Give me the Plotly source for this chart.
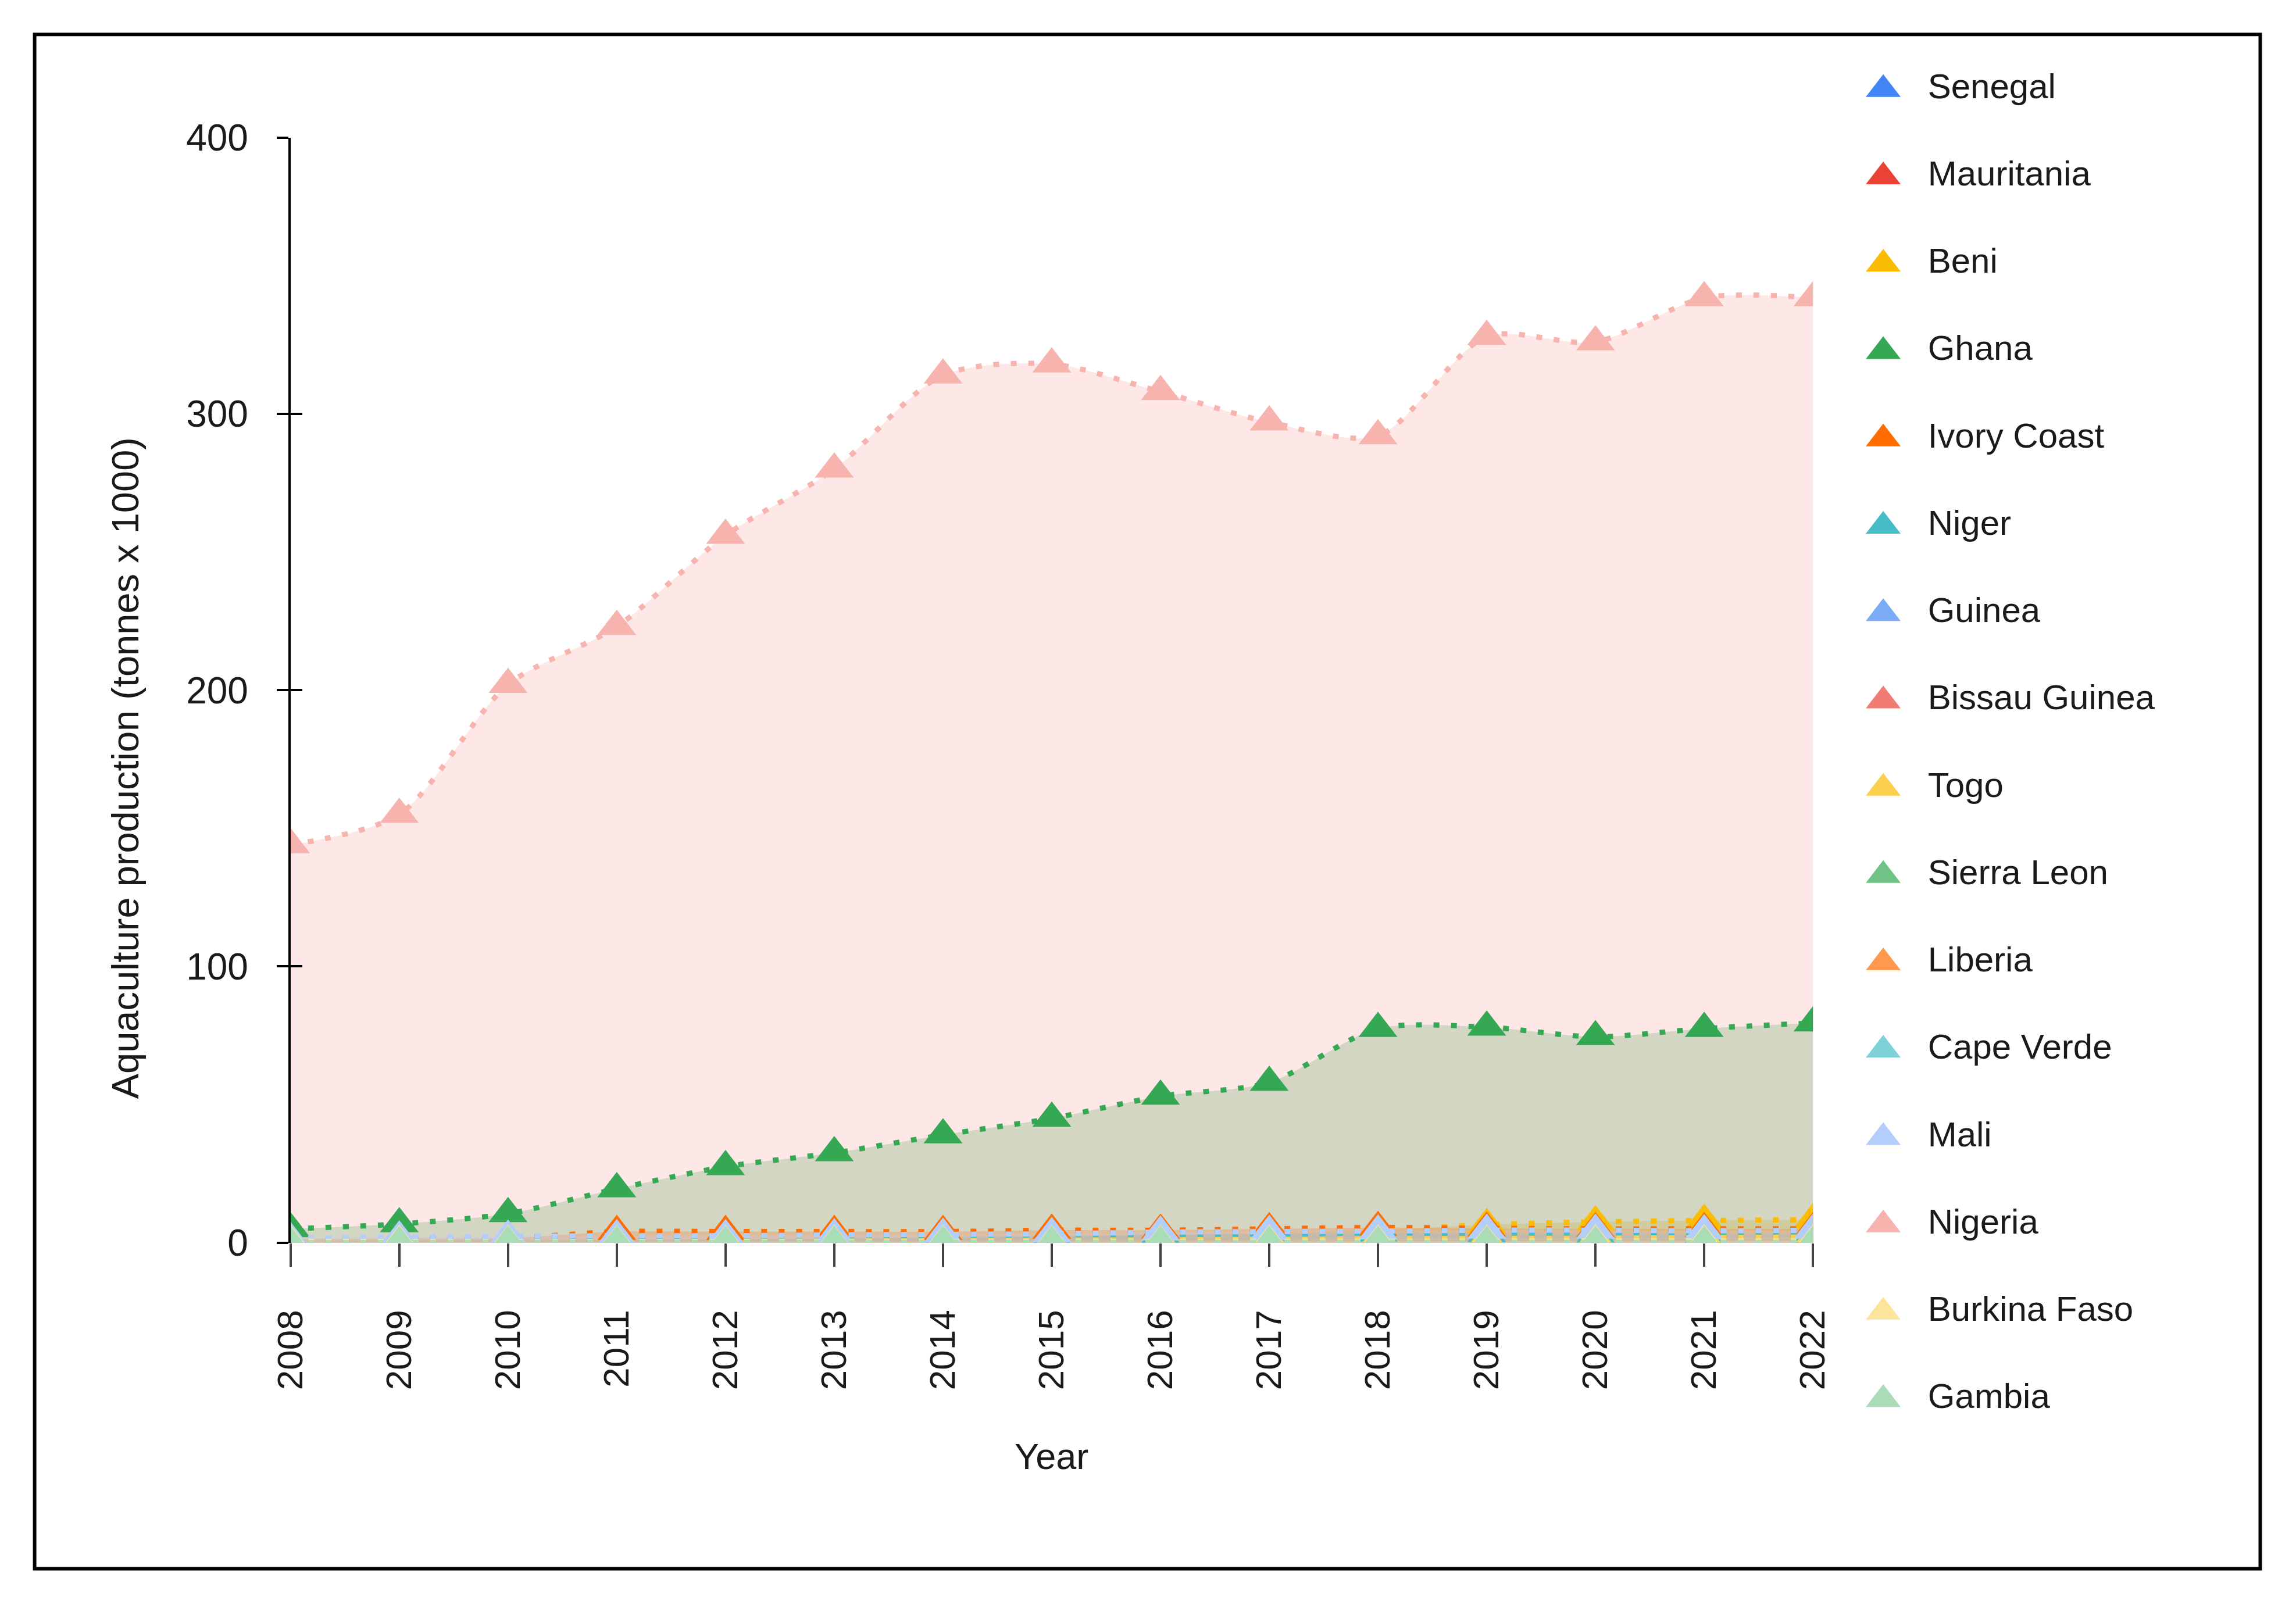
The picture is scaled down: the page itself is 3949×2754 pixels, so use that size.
import plotly.graph_objects as go

# ---------------- data (thousand tonnes) ----------------
years = list(range(2008, 2023))
year_labels = [str(y) for y in years]
y_ticks = [0, 100, 200, 300, 400]

countries = ["Senegal", "Mauritania", "Beni", "Ghana", "Ivory Coast", "Niger", "Guinea",
             "Bissau Guinea", "Togo", "Sierra Leon", "Liberia", "Cape Verde", "Mali",
             "Nigeria", "Burkina Faso", "Gambia"]
colors = ["#4285f4", "#ea4335", "#fbbc04", "#34a853", "#ff6d01", "#46bdc6", "#7baaf7",
          "#f07b72", "#fcd04f", "#71c287", "#ff994d", "#7ed1d7", "#b3cefb",
          "#f7b4ae", "#fde49b", "#aadcb7"]

senegal      = [0.2, 0.4, 0.4, 0.3, 0.4, 0.5, 0.6, 0.8, 1.1, 1.3, 1.1, 1.3, 1.3, 1.5, 1.5]
mauritania   = [0.0, 0.0, 0.0, 0.0, 0.0, 0.0, 0.0, 0.0, 0.0, 0.0, 0.0, 0.0, 0.0, 0.0, 0.0]
beni         = [0.5, 0.6, 0.6, 0.8, 1.0, 1.3, 1.6, 2.2, 2.8, 3.5, 4.5, 6.5, 7.5, 8.0, 8.3]
ghana        = [5.0, 6.8, 10.5, 19.5, 27.5, 32.5, 39.0, 45.0, 53.0, 58.0, 77.5, 78.0, 74.5, 77.5, 79.5]
ivory_coast  = [1.3, 1.5, 1.6, 4.0, 4.0, 4.0, 4.0, 4.5, 4.5, 5.0, 5.5, 5.2, 5.0, 5.0, 5.0]
niger        = [0.5, 0.8, 1.0, 1.0, 1.2, 1.5, 2.0, 2.5, 2.8, 3.0, 3.5, 3.2, 3.0, 3.0, 3.0]
guinea       = [0.1, 0.1, 0.2, 0.2, 0.2, 0.3, 0.3, 0.4, 0.5, 0.5, 0.6, 0.6, 0.7, 0.7, 0.8]
bissau       = [0.0, 0.0, 0.0, 0.0, 0.0, 0.0, 0.0, 0.0, 0.0, 0.0, 0.0, 0.0, 0.0, 0.0, 0.0]
togo         = [0.2, 0.3, 0.3, 0.4, 0.5, 0.6, 0.7, 0.9, 1.0, 1.2, 1.3, 1.5, 1.6, 1.8, 2.0]
sierra_leon  = [0.1, 0.1, 0.1, 0.1, 0.1, 0.1, 0.1, 0.1, 0.1, 0.1, 0.1, 0.1, 0.1, 0.1, 0.1]
liberia      = [0.1, 0.1, 0.1, 0.2, 0.2, 0.2, 0.3, 0.3, 0.3, 0.4, 0.4, 0.4, 0.5, 0.5, 0.5]
cape_verde   = [0.0, 0.0, 0.0, 0.0, 0.0, 0.0, 0.0, 0.0, 0.0, 0.0, 0.0, 0.0, 0.0, 0.0, 0.0]
mali         = [1.5, 2.0, 2.3, 2.5, 2.5, 2.8, 3.0, 3.2, 3.8, 4.0, 4.2, 4.5, 4.5, 4.3, 4.5]
nigeria      = [144.0, 155.0, 202.0, 223.0, 256.0, 280.0, 314.0, 318.0, 308.0, 297.0, 292.0, 328.0, 326.0, 342.0, 342.0]
burkina_faso = [0.5, 0.4, 0.4, 0.4, 0.4, 0.4, 0.4, 0.4, 0.4, 0.5, 0.5, 0.5, 0.6, 0.6, 0.6]
gambia       = [0.0, 0.0, 0.1, 0.1, 0.1, 0.1, 0.1, 0.1, 0.1, 0.1, 0.1, 0.1, 0.1, 0.1, 0.1]

series = [senegal, mauritania, beni, ghana, ivory_coast, niger, guinea, bissau, togo,
          sierra_leon, liberia, cape_verde, mali, nigeria, burkina_faso, gambia]

# ---------------- layout geometry ----------------
W, H = 3949, 2754
FONT = "Liberation Sans, Arial, sans-serif"
TXT = "#1a1a1a"


def px_x(p):
    return p / W


def px_y(p):
    return 1 - p / H


def rgba(hexc, a):
    h = hexc.lstrip("#")
    r, g, b = int(h[0:2], 16), int(h[2:4], 16), int(h[4:6], 16)
    return f"rgba({r},{g},{b},{a})"


fig = go.Figure()

# areas first (drawn beneath all lines and points)
for name, vals, col in zip(countries, series, colors):
    fig.add_trace(go.Scatter(
        x=years, y=vals, mode="none", fill="tozeroy",
        fillcolor=rgba(col, 0.3), line=dict(shape="spline", smoothing=0.8),
        showlegend=False, hoverinfo="skip"))

# dotted lines + triangle points
for name, vals, col in zip(countries, series, colors):
    fig.add_trace(go.Scatter(
        x=years, y=vals, name=name, mode="lines+markers",
        line=dict(color=col, width=9, dash="10px,20px", shape="spline", smoothing=0.8),
        marker=dict(symbol="triangle-up", size=58, color=col, line=dict(width=0)),
        showlegend=False))

# dummy trace for inner tick axis
fig.add_trace(go.Scatter(x=[], y=[], yaxis="y3", showlegend=False, hoverinfo="skip"))

# custom legend (large triangles)
idx = list(range(len(countries)))
fig.add_trace(go.Scatter(
    x=[0] * len(countries), y=idx, mode="markers", xaxis="x2", yaxis="y2",
    marker=dict(symbol="triangle-up", size=52, color=colors, line=dict(width=0)),
    showlegend=False, hoverinfo="skip", cliponaxis=False))
fig.add_trace(go.Scatter(
    x=[1] * len(countries), y=idx, mode="text", xaxis="x2", yaxis="y2",
    text=countries, textposition="middle right",
    textfont=dict(family=FONT, size=60, color=TXT),
    showlegend=False, hoverinfo="skip", cliponaxis=False))

fig.update_layout(
    width=W, height=H,
    margin=dict(l=0, r=0, t=0, b=0, pad=0),
    paper_bgcolor="white", plot_bgcolor="white",
    showlegend=False,
    font=dict(family=FONT, size=64, color=TXT),
    xaxis=dict(
        domain=[px_x(472), px_x(3137)], range=[2008, 2022], anchor="y",
        tickmode="array", tickvals=years, ticktext=year_labels, tickangle=-90,
        ticks="outside", ticklen=40, tickwidth=4, tickcolor="#444444",
        ticklabelstandoff=50,
        showline=False, showgrid=False, zeroline=False,
        tickfont=dict(family=FONT, size=62, color=TXT),
    ),
    yaxis=dict(
        domain=[px_y(2158), px_y(206)], range=[0, 400], anchor="x",
        tickmode="array", tickvals=y_ticks,
        ticks="outside", ticklen=20, tickwidth=4, tickcolor="black",
        ticklabelstandoff=36,
        showline=True, linecolor="black", linewidth=4,
        showgrid=False, zeroline=False,
        tickfont=dict(family=FONT, size=64, color=TXT),
    ),
    yaxis3=dict(
        overlaying="y", anchor="x", side="left", range=[0, 400],
        tickmode="array", tickvals=y_ticks,
        ticks="inside", ticklen=20, tickwidth=4, tickcolor="black",
        showticklabels=False, showline=False, showgrid=False, zeroline=False,
    ),
    xaxis2=dict(domain=[px_x(3208), px_x(3908)], range=[-0.667, 8.308],
                anchor="y2", visible=False),
    yaxis2=dict(domain=[px_y(2508), px_y(58)], range=[15.474, -0.4083],
                anchor="x2", visible=False),
    annotations=[
        dict(text="Aquaculture production (tonnes x 1000)", xref="paper", yref="paper",
             x=px_x(183), y=px_y(1320), textangle=-90, showarrow=False,
             xanchor="center", yanchor="middle",
             font=dict(family=FONT, size=65, color=TXT)),
        dict(text="Year", xref="paper", yref="paper",
             x=px_x(1804), y=px_y(2535), showarrow=False,
             xanchor="center", yanchor="middle",
             font=dict(family=FONT, size=63, color=TXT)),
    ],
    shapes=[
        dict(type="rect", xref="paper", yref="paper",
             x0=px_x(24), x1=px_x(3920), y0=px_y(2734), y1=px_y(24),
             line=dict(color="black", width=6), fillcolor="rgba(0,0,0,0)", layer="above"),
    ],
)

fig.write_html(
    "out.html",
    config={"displayModeBar": False, "staticPlot": True},
    post_script="document.body.style.margin='0';document.body.style.overflow='hidden';",
)
